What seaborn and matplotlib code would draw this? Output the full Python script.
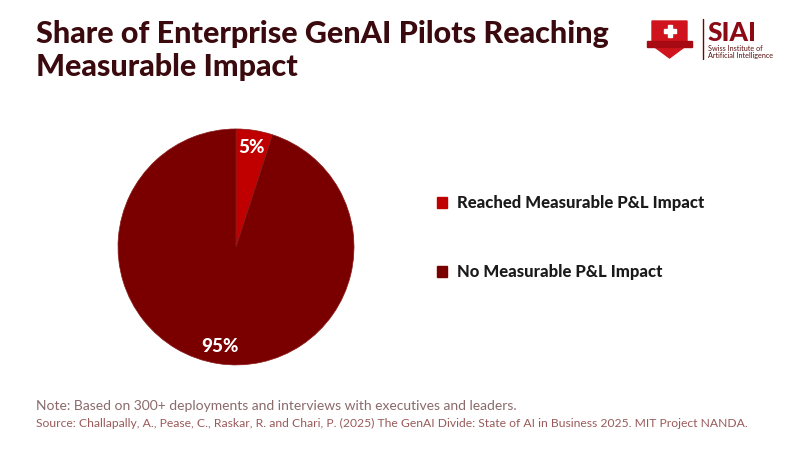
import numpy as np
import seaborn as sns
import matplotlib.pyplot as plt
from matplotlib.patches import Polygon, Rectangle
from matplotlib.lines import Line2D

# Data
labels = ["Reached Measurable P&L Impact", "No Measurable P&L Impact"]
shares = [5, 95]
colors = ["#C00000", "#7A0000"]

title = "Share of Enterprise GenAI Pilots Reaching\nMeasurable Impact"
note = "Note: Based on 300+ deployments and interviews with executives and leaders."
source = ("Source: Challapally, A., Pease, C., Raskar, R. and Chari, P. (2025) The GenAI Divide: "
          "State of AI in Business 2025. MIT Project NANDA.")

sns.set_theme(style="white")
plt.rcParams['font.family'] = ['Lato', 'DejaVu Sans']

fig = plt.figure(figsize=(8, 4.5), dpi=100)
fig.patch.set_facecolor("white")

# pie
ax = fig.add_axes([0.1475, 0.189, 0.295, 0.5244])
palette = sns.color_palette(colors)
wedges, _, autotexts = ax.pie(shares, colors=palette, startangle=90, counterclock=False,
                              autopct="%d%%", pctdistance=0.85,
                              wedgeprops=dict(linewidth=0.5, edgecolor="#8a1a1a"),
                              textprops=dict(color="white", fontsize=13.5, fontweight="black"))
ax.set_xlim(-1.0, 1.0)
ax.set_ylim(-1.0, 1.0)
ax.set_aspect("equal")

# legend
handles = [Rectangle((0, 0), 1, 1, color=c) for c in palette]
leg = fig.legend(handles, labels, loc="upper left", bbox_to_anchor=(0.527, 0.6),
                 frameon=False, handlelength=0.65, handleheight=0.65, handletextpad=0.55,
                 labelspacing=3.2, prop=dict(size=12, weight="black"))
for t in leg.get_texts():
    t.set_color("#1a1a1a")

# title
fig.text(0.045, 0.955, title, ha="left", va="top", fontsize=22, fontweight="black",
         color="#3B0A0E", linespacing=1.2)

# footnotes
fig.text(0.045, 0.098, note, ha="left", va="center", fontsize=10, color="#8a6a6a")
fig.text(0.045, 0.06, source, ha="left", va="center", fontsize=8.7, color="#9a5a5a")

# logo
lax = fig.add_axes([0.80, 0.86, 0.17, 48 / 450])
lax.set_xlim(0, 136)
lax.set_ylim(0, 48)
lax.axis("off")
shield = Polygon([[12, 42], [47, 42], [47, 18], [29.5, 5], [12, 18]], closed=True,
                 color="#D0141E")
lax.add_patch(shield)
lax.add_patch(Rectangle((7, 16.5), 45, 6, color="#A80A14"))
lax.add_patch(Rectangle((27.5, 26), 4, 12, color="white"))
lax.add_patch(Rectangle((23.5, 30), 12, 4, color="white"))
lax.add_line(Line2D([63, 63], [4, 44], color="#7A0000", lw=1))
lax.text(67, 42, "SIAI", ha="left", va="top", fontsize=19, fontweight="black", color="#8B0A14")
lax.text(68, 11, "Swiss Institute of\nArtificial Intelligence", ha="left", va="center",
         fontsize=5.2, color="#5a1010", linespacing=1.0)

fig.savefig("out.png", dpi=100)
